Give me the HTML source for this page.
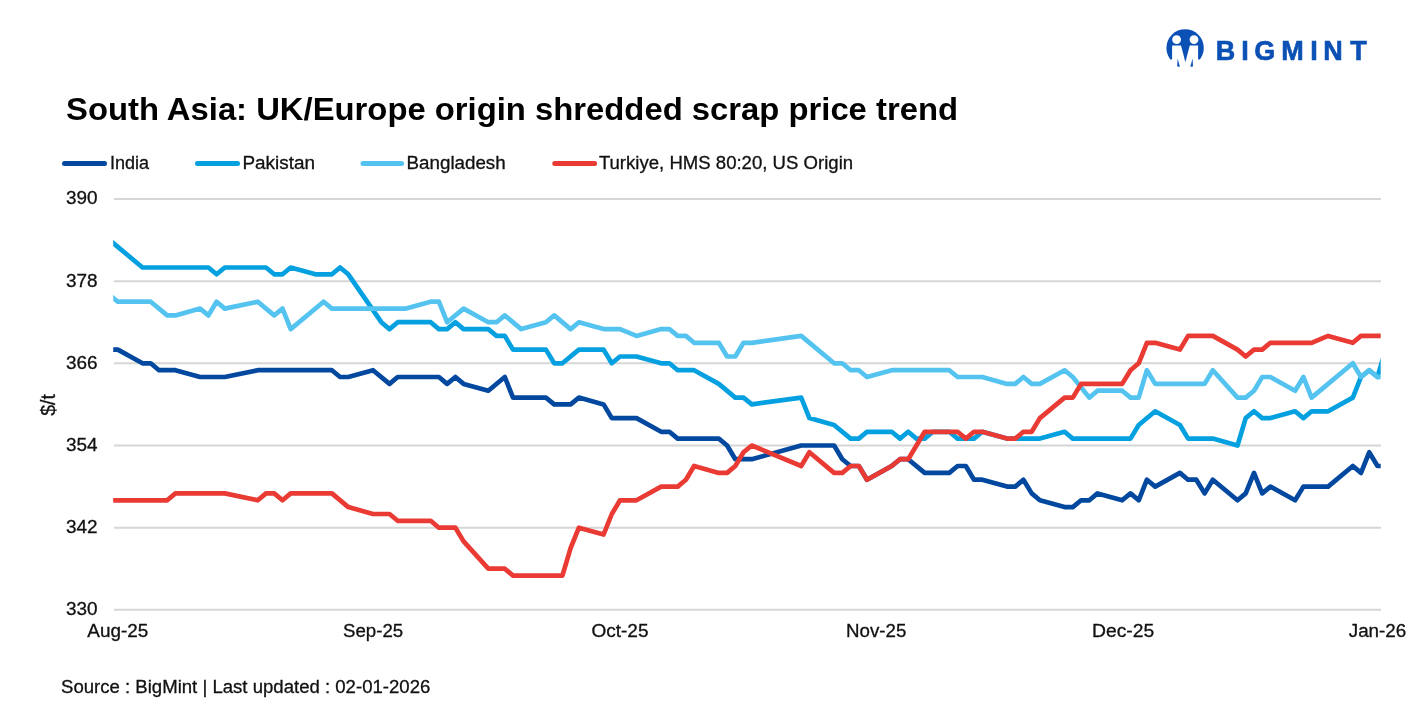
<!DOCTYPE html>
<html><head><meta charset="utf-8">
<style>
html,body{margin:0;padding:0;background:#fff;}
body{width:1417px;height:708px;overflow:hidden;}
svg{display:block;will-change:transform;}
text{font-family:"Liberation Sans",sans-serif;fill:#111;}
.ax{font-size:18px;stroke:#111;stroke-width:0.3px;}
.lg{font-size:18px;stroke:#111;stroke-width:0.3px;}
.title{font-size:32px;font-weight:bold;fill:#000;}
.logo{font-size:27px;font-weight:bold;fill:#0b50b4;stroke:#0b50b4;stroke-width:0.6px;}
</style></head>
<body>
<svg width="1417" height="708" viewBox="0 0 1417 708">
<rect width="1417" height="708" fill="#fff"/>
<defs><clipPath id="plot"><rect x="113.2" y="150" width="1267.5" height="480"/></clipPath>
<clipPath id="lc"><rect x="1160" y="20" width="50" height="39.5"/></clipPath></defs>
<!-- logo -->
<g>
<circle cx="1185.1" cy="47.9" r="18.7" fill="#0b50b4" clip-path="url(#lc)"/>
<circle cx="1176.6" cy="39.6" r="4.4" fill="#fff"/>
<circle cx="1194.0" cy="39.6" r="4.4" fill="#fff"/>
<polygon points="1172.1,45.6 1181.0,45.6 1185.4,62 1189.8,45.6 1198.1,45.6 1198.1,66 1172.1,66" fill="#fff"/>
<polygon points="1177.6,58.5 1179.9,66.8 1177.2,66.4" fill="#0b50b4"/>
<polygon points="1192.6,58.5 1190.3,66.8 1193.0,66.4" fill="#0b50b4"/>
<polygon points="1184.5,58.8 1186.3,58.8 1185.4,62" fill="#0b50b4"/>
</g>
<text class="logo" x="1225.4" y="60.3" text-anchor="middle">B</text>
<text class="logo" x="1244.9" y="60.3" text-anchor="middle">I</text>
<text class="logo" x="1264.7" y="60.3" text-anchor="middle">G</text>
<text class="logo" x="1292.6" y="60.3" text-anchor="middle">M</text>
<text class="logo" x="1313.9" y="60.3" text-anchor="middle">I</text>
<text class="logo" x="1333.1" y="60.3" text-anchor="middle">N</text>
<text class="logo" x="1358.6" y="60.3" text-anchor="middle">T</text>
<text id="title" class="title" x="66" y="120" textLength="892" lengthAdjust="spacingAndGlyphs">South Asia: UK/Europe origin shredded scrap price trend</text>
<!-- legend -->
<line x1="64.5" y1="163.6" x2="104.5" y2="163.6" stroke="#02489f" stroke-width="5" stroke-linecap="round"/>
<text id="lgI" class="lg" x="110" y="168.8">India</text>
<line x1="197.5" y1="163.6" x2="237.5" y2="163.6" stroke="#04a0e0" stroke-width="5" stroke-linecap="round"/>
<text id="lgP" class="lg" x="242.4" textLength="72.6" lengthAdjust="spacingAndGlyphs" y="168.8">Pakistan</text>
<line x1="363" y1="163.6" x2="401.5" y2="163.6" stroke="#55c3f0" stroke-width="5" stroke-linecap="round"/>
<text id="lgB" class="lg" x="406.6" textLength="99.1" lengthAdjust="spacingAndGlyphs" y="168.8">Bangladesh</text>
<line x1="554.8" y1="163.6" x2="594.6" y2="163.6" stroke="#ea3a34" stroke-width="5" stroke-linecap="round"/>
<text id="lgT" class="lg" x="598.9" textLength="254.2" lengthAdjust="spacingAndGlyphs" y="168.8">Turkiye, HMS 80:20, US Origin</text>
<line x1="114" y1="199.0" x2="1381" y2="199.0" stroke="#d6d6d6" stroke-width="2"/>
<line x1="114" y1="281.2" x2="1381" y2="281.2" stroke="#d6d6d6" stroke-width="2"/>
<line x1="114" y1="363.3" x2="1381" y2="363.3" stroke="#d6d6d6" stroke-width="2"/>
<line x1="114" y1="445.5" x2="1381" y2="445.5" stroke="#d6d6d6" stroke-width="2"/>
<line x1="114" y1="527.7" x2="1381" y2="527.7" stroke="#d6d6d6" stroke-width="2"/>
<line x1="114" y1="609.8" x2="1381" y2="609.8" stroke="#d6d6d6" stroke-width="2"/>

<text id="y390" x="97.6" y="204.3" text-anchor="end" class="ax" textLength="31.6" lengthAdjust="spacingAndGlyphs">390</text>
<text id="y378" x="97.6" y="286.5" text-anchor="end" class="ax" textLength="31.6" lengthAdjust="spacingAndGlyphs">378</text>
<text id="y366" x="97.6" y="368.6" text-anchor="end" class="ax" textLength="31.6" lengthAdjust="spacingAndGlyphs">366</text>
<text id="y354" x="97.6" y="450.8" text-anchor="end" class="ax" textLength="31.6" lengthAdjust="spacingAndGlyphs">354</text>
<text id="y342" x="97.6" y="533.0" text-anchor="end" class="ax" textLength="31.6" lengthAdjust="spacingAndGlyphs">342</text>
<text id="y330" x="97.6" y="615.1" text-anchor="end" class="ax" textLength="31.6" lengthAdjust="spacingAndGlyphs">330</text>

<text id="x0" x="117.8" y="637" text-anchor="middle" class="ax" textLength="61" lengthAdjust="spacingAndGlyphs">Aug-25</text>
<text id="x31" x="373.1" y="637" text-anchor="middle" class="ax" textLength="60.2" lengthAdjust="spacingAndGlyphs">Sep-25</text>
<text id="x61" x="620.0" y="637" text-anchor="middle" class="ax" textLength="57.1" lengthAdjust="spacingAndGlyphs">Oct-25</text>
<text id="x92" x="876.2" y="637" text-anchor="middle" class="ax" textLength="60.3" lengthAdjust="spacingAndGlyphs">Nov-25</text>
<text id="x122" x="1123.1" y="637" text-anchor="middle" class="ax" textLength="62.2" lengthAdjust="spacingAndGlyphs">Dec-25</text>
<text id="x153" x="1377.5" y="637" text-anchor="middle" class="ax" textLength="57.5" lengthAdjust="spacingAndGlyphs">Jan-26</text>

<text id="unit" class="ax" style="font-size:19.5px" transform="translate(54.6,405) rotate(-90)" text-anchor="middle">$/t</text>
<g clip-path="url(#plot)">
<path d="M109.6,349.6 L117.8,349.6 L142.5,363.3 L150.7,363.3 L159.0,370.2 L175.4,370.2 L200.1,377.0 L224.8,377.0 L257.8,370.2 L331.9,370.2 L340.1,377.0 L348.3,377.0 L373.0,370.2 L389.5,383.9 L397.7,377.0 L438.9,377.0 L447.1,383.9 L455.4,377.0 L463.6,383.9 L488.3,390.7 L504.8,377.0 L513.0,397.6 L545.9,397.6 L554.2,404.4 L570.6,404.4 L578.9,397.6 L603.6,404.4 L611.8,418.1 L636.5,418.1 L661.2,431.8 L669.4,431.8 L677.7,438.6 L718.8,438.6 L727.1,445.5 L735.3,459.2 L751.8,459.2 L801.2,445.5 L834.1,445.5 L842.3,459.2 L850.6,466.0 L858.8,466.0 L867.0,479.7 L891.7,466.0 L900.0,459.2 L908.2,459.2 L924.7,472.9 L949.3,472.9 L957.6,466.0 L965.8,466.0 L974.0,479.7 L982.3,479.7 L1007.0,486.6 L1015.2,486.6 L1023.4,479.7 L1031.7,493.4 L1039.9,500.3 L1064.6,507.1 L1072.8,507.1 L1081.1,500.3 L1089.3,500.3 L1097.5,493.4 L1122.2,500.3 L1130.5,493.4 L1138.7,500.3 L1146.9,479.7 L1155.2,486.6 L1179.9,472.9 L1188.1,479.7 L1196.3,479.7 L1204.6,493.4 L1212.8,479.7 L1237.5,500.3 L1245.7,493.4 L1254.0,472.9 L1262.2,493.4 L1270.4,486.6 L1295.1,500.3 L1303.4,486.6 L1328.1,486.6 L1352.8,466.0 L1361.0,472.9 L1369.2,452.3 L1377.5,466.0 L1385.7,466.0" fill="none" stroke="#02489f" stroke-width="4.7" stroke-linejoin="round" stroke-linecap="butt"/>
<path d="M109.6,240.1 L117.8,246.9 L142.5,267.5 L208.4,267.5 L216.6,274.3 L224.8,267.5 L266.0,267.5 L274.2,274.3 L282.5,274.3 L290.7,267.5 L315.4,274.3 L331.9,274.3 L340.1,267.5 L348.3,274.3 L381.3,322.2 L389.5,329.1 L397.7,322.2 L430.7,322.2 L438.9,329.1 L447.1,329.1 L455.4,322.2 L463.6,329.1 L488.3,329.1 L496.5,335.9 L504.8,335.9 L513.0,349.6 L545.9,349.6 L554.2,363.3 L562.4,363.3 L578.9,349.6 L603.6,349.6 L611.8,363.3 L620.0,356.5 L636.5,356.5 L661.2,363.3 L669.4,363.3 L677.7,370.2 L694.1,370.2 L718.8,383.9 L735.3,397.6 L743.5,397.6 L751.8,404.4 L801.2,397.6 L809.4,418.1 L834.1,425.0 L850.6,438.6 L858.8,438.6 L867.0,431.8 L891.7,431.8 L900.0,438.6 L908.2,431.8 L916.4,438.6 L924.7,438.6 L932.9,431.8 L949.3,431.8 L957.6,438.6 L974.0,438.6 L982.3,431.8 L1007.0,438.6 L1015.2,438.6 L1039.9,438.6 L1064.6,431.8 L1072.8,438.6 L1130.5,438.6 L1138.7,425.0 L1155.2,411.3 L1179.9,425.0 L1188.1,438.6 L1212.8,438.6 L1237.5,445.5 L1245.7,418.1 L1254.0,411.3 L1262.2,418.1 L1270.4,418.1 L1295.1,411.3 L1303.4,418.1 L1311.6,411.3 L1328.1,411.3 L1352.8,397.6 L1361.0,377.0 L1369.2,370.2 L1377.5,377.0 L1385.7,349.6" fill="none" stroke="#04a0e0" stroke-width="4.7" stroke-linejoin="round" stroke-linecap="butt"/>
<path d="M109.6,294.9 L117.8,301.7 L150.7,301.7 L167.2,315.4 L175.4,315.4 L200.1,308.6 L208.4,315.4 L216.6,301.7 L224.8,308.6 L257.8,301.7 L274.2,315.4 L282.5,308.6 L290.7,329.1 L323.6,301.7 L331.9,308.6 L406.0,308.6 L430.7,301.7 L438.9,301.7 L447.1,322.2 L463.6,308.6 L488.3,322.2 L496.5,322.2 L504.8,315.4 L521.2,329.1 L545.9,322.2 L554.2,315.4 L570.6,329.1 L578.9,322.2 L603.6,329.1 L620.0,329.1 L636.5,335.9 L661.2,329.1 L669.4,329.1 L677.7,335.9 L685.9,335.9 L694.1,342.8 L718.8,342.8 L727.1,356.5 L735.3,356.5 L743.5,342.8 L751.8,342.8 L801.2,335.9 L834.1,363.3 L842.3,363.3 L850.6,370.2 L858.8,370.2 L867.0,377.0 L891.7,370.2 L949.3,370.2 L957.6,377.0 L982.3,377.0 L1007.0,383.9 L1015.2,383.9 L1023.4,377.0 L1031.7,383.9 L1039.9,383.9 L1064.6,370.2 L1072.8,377.0 L1089.3,397.6 L1097.5,390.7 L1122.2,390.7 L1130.5,397.6 L1138.7,397.6 L1146.9,370.2 L1155.2,383.9 L1204.6,383.9 L1212.8,370.2 L1237.5,397.6 L1245.7,397.6 L1254.0,390.7 L1262.2,377.0 L1270.4,377.0 L1295.1,390.7 L1303.4,377.0 L1311.6,397.6 L1328.1,383.9 L1352.8,363.3 L1361.0,377.0 L1369.2,370.2 L1377.5,377.0 L1385.7,377.0" fill="none" stroke="#55c3f0" stroke-width="4.7" stroke-linejoin="round" stroke-linecap="butt"/>
<path d="M109.6,500.3 L117.8,500.3 L167.2,500.3 L175.4,493.4 L224.8,493.4 L257.8,500.3 L266.0,493.4 L274.2,493.4 L282.5,500.3 L290.7,493.4 L331.9,493.4 L348.3,507.1 L373.0,514.0 L389.5,514.0 L397.7,520.8 L430.7,520.8 L438.9,527.7 L455.4,527.7 L463.6,541.4 L488.3,568.7 L504.8,568.7 L513.0,575.6 L562.4,575.6 L570.6,548.2 L578.9,527.7 L603.6,534.5 L611.8,514.0 L620.0,500.3 L636.5,500.3 L661.2,486.6 L677.7,486.6 L685.9,479.7 L694.1,466.0 L718.8,472.9 L727.1,472.9 L735.3,466.0 L743.5,452.3 L751.8,445.5 L801.2,466.0 L809.4,452.3 L834.1,472.9 L842.3,472.9 L850.6,466.0 L858.8,466.0 L867.0,479.7 L891.7,466.0 L900.0,459.2 L908.2,459.2 L924.7,431.8 L957.6,431.8 L965.8,438.6 L974.0,431.8 L982.3,431.8 L1007.0,438.6 L1015.2,438.6 L1023.4,431.8 L1031.7,431.8 L1039.9,418.1 L1064.6,397.6 L1072.8,397.6 L1081.1,383.9 L1122.2,383.9 L1130.5,370.2 L1138.7,363.3 L1146.9,342.8 L1155.2,342.8 L1179.9,349.6 L1188.1,335.9 L1212.8,335.9 L1237.5,349.6 L1245.7,356.5 L1254.0,349.6 L1262.2,349.6 L1270.4,342.8 L1311.6,342.8 L1328.1,335.9 L1352.8,342.8 L1361.0,335.9 L1385.7,335.9" fill="none" stroke="#ea3a34" stroke-width="4.7" stroke-linejoin="round" stroke-linecap="butt"/>

</g>
<text id="src" class="ax" x="61" y="693" textLength="369.3" lengthAdjust="spacingAndGlyphs">Source : BigMint | Last updated : 02-01-2026</text>
</svg>
</body></html>
